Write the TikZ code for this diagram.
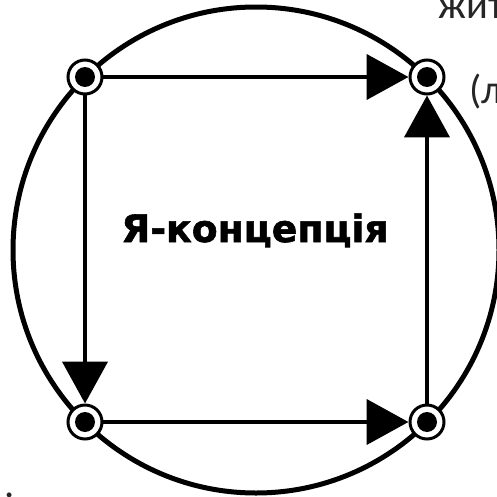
\documentclass[tikz,border=0pt]{standalone}
\usepackage{fontspec}
\setmainfont{DejaVu Sans}
\newfontfamily\notefont{Carlito}
\newfontfamily\titlefont[FakeBold=1.5]{DejaVu Sans Bold}
\usetikzlibrary{arrows.meta}

\begin{document}
\begin{tikzpicture}[x=0.02cm, y=-0.02cm,
      every node/.style={font=\small},
      pin/.style={circle, draw, fill=white, line width=0.06cm,
            minimum size=0.68cm, inner sep=0pt},
      flow/.style={line width=0.09cm, -{Triangle[length=0.84cm, width=0.9cm]}},
      note/.style={anchor=base west, inner sep=0pt, text=black!85,
            font=\notefont\fontsize{23}{26}\selectfont}]
    \useasboundingbox (0,0) rectangle (497,497);
    \draw[line width=0.1cm] (256,250) circle (243);
    % corner points
    \node[pin] (tl) at (85,77) {};
    \node[pin] (tr) at (427,77) {};
    \node[pin] (bl) at (85,422) {};
    \node[pin] (br) at (427,422) {};
    \foreach \p in {tl,tr,bl,br}
      \fill (\p) circle (0.2cm);
    \draw[flow] (tl) -- (tr);
    \draw[flow] (tl) -- (bl);
    \draw[flow] (bl) -- (br);
    \draw[flow] (br) -- (tr);
    \node[anchor=base, inner sep=0pt,
          font=\titlefont\fontsize{21.5}{24}\selectfont] (self) at (255,242) {Я-концепція};
    % cut-off texts at the border
    \node[note] (life) at (438,18) {жит};
    \node[note] (paren) at (469,103) {(л};
    \node[note] (dot) at (4,497) {.};
\end{tikzpicture}
\end{document}
